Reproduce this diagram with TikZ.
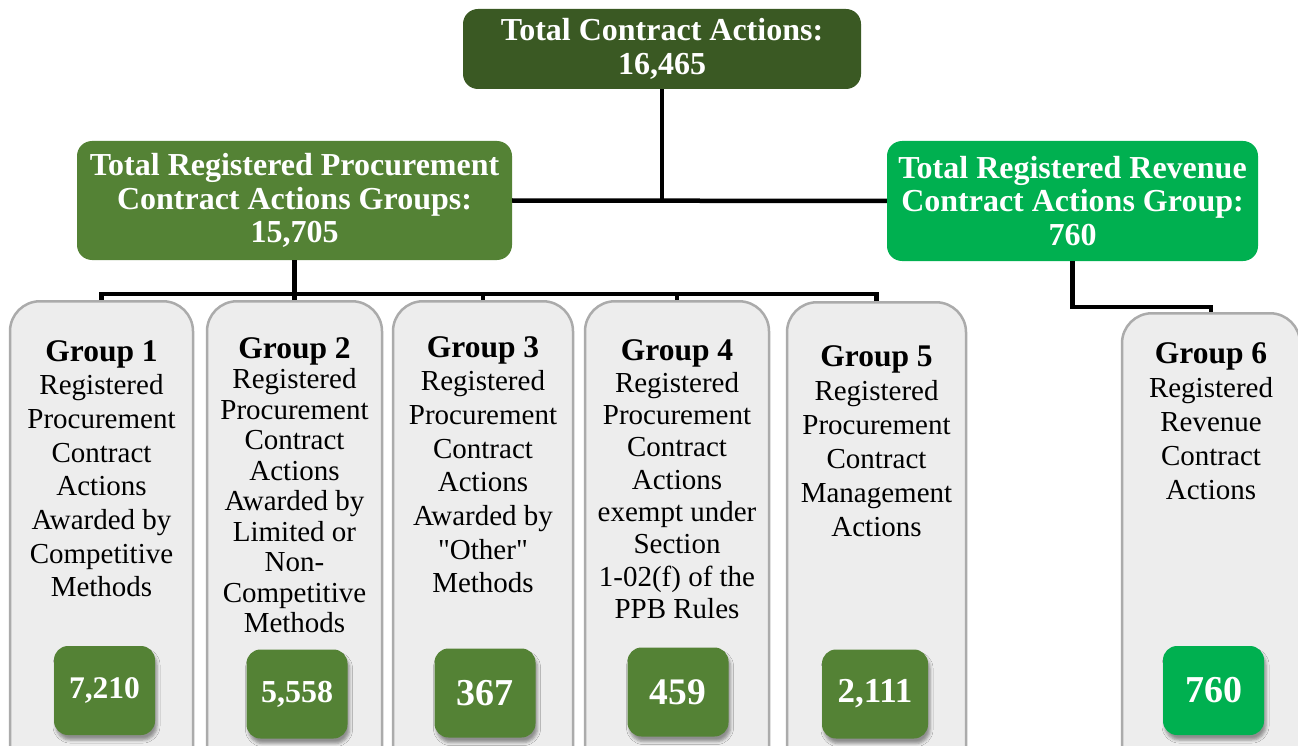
\documentclass[tikz,border=0pt]{standalone}
\usepackage{fontspec}
\setmainfont{Liberation Serif}
\usetikzlibrary{positioning, shadows.blur}

\definecolor{topgreen}{HTML}{3A5923}
\definecolor{procgreen}{HTML}{548235}
\definecolor{revgreen}{HTML}{00B050}
\definecolor{groupfill}{HTML}{EDEDED}
\definecolor{groupline}{HTML}{ABABAB}

\newcommand{\grouptitle}[1]{{\fontsize{31.5}{34}\selectfont\bfseries Group #1}}

\begin{document}
\begin{tikzpicture}[
x=1pt, y=-1pt,
headbox/.style={rounded corners=15pt, inner sep=0pt, align=center, text=white,
  font=\fontsize{32}{33.5}\selectfont\bfseries},
groupbox/.style={draw=groupline, fill=groupfill, line width=2.5pt,
  rounded corners=30pt, inner sep=0pt, minimum height=520pt, anchor=north},
grouptext/.style={inner sep=0pt, align=center, font=\fontsize{29}{#1}\selectfont},
countbox/.style={rounded corners=14pt, inner sep=0pt, minimum width=101pt,
  minimum height=89pt, text=white, font=\fontsize{#1}{36}\selectfont\bfseries,
  blur shadow={shadow xshift=2pt, shadow yshift=-5pt, shadow opacity=40,
    shadow blur radius=3pt}},
countbox/.default=33,
connector/.style={line width=4.5pt}
]

\useasboundingbox (0,0) rectangle (1298,746);
\clip (0,0) rectangle (1298,746);

% totals
\node (total) [headbox, fill=topgreen, minimum width=398pt, minimum height=80pt]
  at (662,49) {Total Contract Actions:\\16,465};
\node (proc) [headbox, fill=procgreen, minimum width=435pt, minimum height=119pt]
  at (294.5,200.5) {Total Registered Procurement\\Contract Actions Groups:\\15,705};
\node (rev) [headbox, fill=revgreen, minimum width=371pt, minimum height=120pt]
  at (1072.5,201) {Total Registered Revenue\\Contract Actions Group:\\760};

% group columns
\node (g1) [groupbox, minimum width=183pt] at (101.5,300) {};
\node (g2) [groupbox, minimum width=175pt] at (294.5,300) {};
\node (g3) [groupbox, minimum width=180pt] at (483,300) {};
\node (g4) [groupbox, minimum width=184pt] at (677,300) {};
\node (g5) [groupbox, minimum width=179pt] at (876.5,301) {};
\node (g6) [groupbox, minimum width=178pt] at (1211,312) {};

\node (t1) [grouptext=33.7, below=40pt of g1.north]
  {\grouptitle{1}\\Registered\\Procurement\\Contract\\Actions\\Awarded by\\Competitive\\Methods};
\node (t2) [grouptext=30.5, below=37pt of g2.north]
  {\grouptitle{2}\\Registered\\Procurement\\Contract\\Actions\\Awarded by\\Limited or\\Non-\\Competitive\\Methods};
\node (t3) [grouptext=33.7, below=36pt of g3.north]
  {\grouptitle{3}\\Registered\\Procurement\\Contract\\Actions\\Awarded by\\\textquotedbl Other\textquotedbl\\Methods};
\node (t4) [grouptext=32.3, below=39pt of g4.north]
  {\grouptitle{4}\\Registered\\Procurement\\Contract\\Actions\\exempt under\\Section\\1-02(f) of the\\PPB Rules};
\node (t5) [grouptext=34, below=44pt of g5.north]
  {\grouptitle{5}\\Registered\\Procurement\\Contract\\Management\\Actions};
\node (t6) [grouptext=34, below=30pt of g6.north]
  {\grouptitle{6}\\Registered\\Revenue\\Contract\\Actions};

% counts
\node (n1) [countbox=31.5, fill=procgreen] at (104.5,690.5) {7,210};
\node (n2) [countbox=32, fill=procgreen] at (297,694) {5,558};
\node (n3) [countbox=38, fill=procgreen] at (485,693) {367};
\node (n4) [countbox=37.5, fill=procgreen] at (678,692) {459};
\node (n5) [countbox=35, fill=procgreen, minimum width=106pt] at (875,694) {2,111};
\node (n6) [countbox=38, fill=revgreen] at (1213.5,690.5) {760};

% connectors
\coordinate (pbus) at (294.5,294);
\coordinate (rbus) at (1072.5,307);

\draw[connector] (total.south) -- (total.south |- proc.east);
\draw[connector] (proc.east) -- (rev.west);
\draw[connector] (proc.south) -- (pbus);
\foreach \g in {g1,g2,g3,g4,g5}
  \draw[connector] (\g.north) |- (pbus);
\draw[connector] (rev.south) -- (rbus) -| (g6.north);

\end{tikzpicture}
\end{document}
